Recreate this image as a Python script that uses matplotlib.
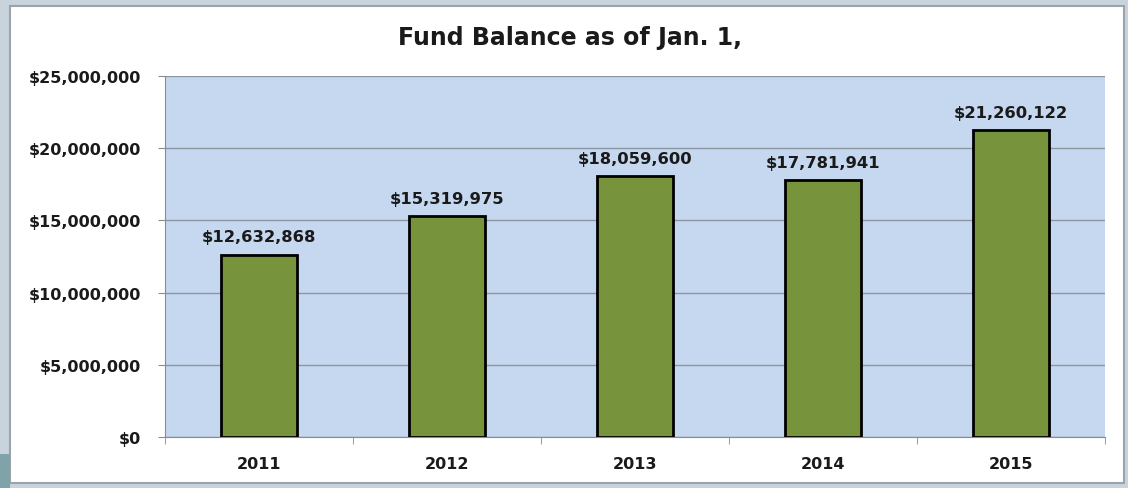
import numpy as np
import matplotlib.pyplot as plt
from matplotlib.patches import Rectangle
from matplotlib.ticker import FuncFormatter, FixedLocator

years = ["2011", "2012", "2013", "2014", "2015"]
balances = [12632868, 15319975, 18059600, 17781941, 21260122]

plt.rcParams['font.family'] = ['DejaVu Sans']

fig = plt.figure(figsize=(11.28, 4.89), dpi=100)
fig.patch.set_facecolor("#c9d3dc")
# white chart panel inside the screenshot frame
fig.patches.append(Rectangle((10 / 1128, 0.01), 1114 / 1128, 0.975, transform=fig.transFigure,
                             facecolor="white", edgecolor="#9aa4ad", linewidth=1.5, zorder=-2))
fig.patches.append(Rectangle((0, 0), 10 / 1128, 0.07, transform=fig.transFigure,
                             facecolor="#7fa3a8", edgecolor="none", zorder=-2))

ax = fig.add_axes([165 / 1128, 1 - 438 / 489, 940 / 1128, (438 - 77) / 489])
ax.set_zorder(1)
ax.set_facecolor("#c6d8ef")

x = np.arange(len(years))
ax.bar(x, balances, width=0.4, color="#77933c", edgecolor="black", linewidth=2, zorder=3)

for xi, v in zip(x, balances):
    ax.text(xi, v + 700000, "${:,}".format(v), ha="center", va="bottom",
            fontsize=11.8, fontweight="bold", color="#1a1a1a")

ax.set_xlim(-0.5, len(years) - 0.5)
ax.set_ylim(0, 25000000)
ax.set_yticks(np.arange(0, 25000001, 5000000))
ax.yaxis.set_major_formatter(FuncFormatter(lambda v, p: "${:,.0f}".format(v)))
ax.set_xticks(x)
ax.set_xticklabels(years)
ax.xaxis.set_minor_locator(FixedLocator(np.arange(-0.5, len(years), 1.0)))
ax.tick_params(axis="x", which="major", length=0, pad=14)
ax.tick_params(axis="x", which="minor", length=5, color="#8c8c8c")
ax.tick_params(axis="y", length=5, color="#8c8c8c", pad=12)
for lab in ax.get_xticklabels() + ax.get_yticklabels():
    lab.set_fontsize(11.5)
    lab.set_fontweight("bold")
    lab.set_color("#1a1a1a")

ax.grid(axis="y", color="#8c96a0", linewidth=1, zorder=0)
ax.set_axisbelow(True)
for side in ["top", "right"]:
    ax.spines[side].set_visible(False)
for side in ["left", "bottom"]:
    ax.spines[side].set_color("#8c8c8c")

fig.text(570 / 1128, 1 - 38 / 489, "Fund Balance as of Jan. 1,", ha="center", va="center",
         fontsize=17, fontweight="bold", color="#1a1a1a")

fig.savefig("out.png", dpi=100)
